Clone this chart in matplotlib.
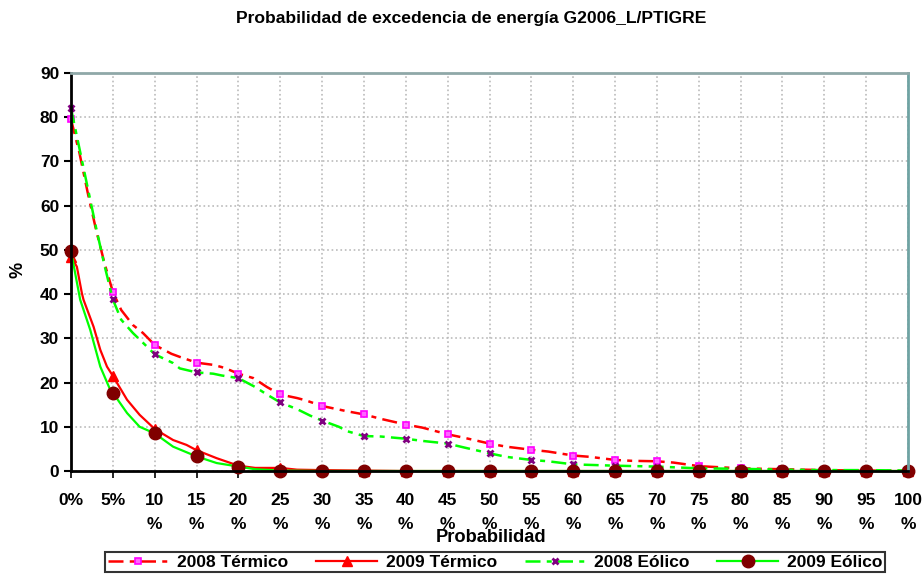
import matplotlib
matplotlib.use('Agg')
import matplotlib.pyplot as plt

# probability (%) positions and exceedance values
x_t08 = [0, 1, 2, 3, 4, 5, 6, 7.4, 8.6, 10, 12, 13, 15, 17, 18, 19, 20, 21.8, 23.4, 25, 27, 28, 30,
         33, 35, 37, 40, 42, 45, 47, 50, 52, 55, 57, 60, 62, 65, 67, 70, 72, 75, 80, 85, 90, 95, 100]
y_t08 = [79.5, 72, 62.9, 54.5, 47, 40.5, 36.4, 33, 31.2, 28.5, 26.5, 25.8, 24.5, 24, 23.5, 22.8, 22, 21, 19, 17.3, 16.5, 16, 14.7,
         13.5, 12.8, 11.8, 10.5, 9.8, 8.3, 7.5, 6.2, 5.5, 4.8, 4.4, 3.5, 3.2, 2.5, 2.3, 2.2, 1.9, 1.1, 0.6, 0.4, 0.2, 0.1, 0]

x_t09 = [0, 0.7, 1.3, 1.5, 2.7, 3.5, 4.3, 5, 6.7, 8.2, 10, 12.2, 13.8, 15, 17.4, 20, 22, 25, 27, 30, 35, 40,
         45, 50, 55, 60, 65, 70, 75, 80, 85, 90, 95, 100]
y_t09 = [48.5, 46.2, 40.2, 38.7, 32.6, 27.4, 23.6, 21.5, 16.1, 12.7, 9.5, 7, 5.9, 4.7, 2.9, 1.2, 0.7, 0.7, 0.3, 0.2, 0.1, 0,
         0, 0, 0, 0, 0, 0, 0, 0, 0, 0, 0, 0]

x_e08 = [0, 1, 2, 3, 4, 5, 6, 7.4, 8.6, 10, 12.2, 13, 15, 17, 18, 20, 22, 23.4, 25, 27, 28.6, 30, 32, 33,
         35, 37, 40, 42, 45, 47, 50, 52, 55, 57, 60, 65, 70, 75, 80, 85, 90, 95, 100]
y_e08 = [82, 73, 64, 55, 46.5, 38.8, 34.2, 31.2, 29, 26.4, 24.4, 23.2, 22.3, 22, 21.6, 21, 19, 17.3, 15.5, 14, 12.5, 11.4, 10, 9,
         7.9, 7.8, 7.3, 6.8, 6.2, 5.3, 4, 3.2, 2.5, 2.2, 1.5, 1.2, 1.0, 0.6, 0.5, 0.3, 0.2, 0.2, 0.1]

x_e09 = [0, 1.1, 2.3, 3.5, 4.7, 5, 6.7, 8.2, 10, 12.2, 15, 17.4, 20, 22, 25, 30, 35, 40,
         45, 50, 55, 60, 65, 70, 75, 80, 85, 90, 95, 100]
y_e09 = [49.7, 38.7, 31.9, 23.6, 18.3, 17.7, 13.1, 10, 8.5, 5.5, 3.3, 1.8, 1.0, 0.4, 0.1, 0, 0, 0,
         0, 0, 0, 0, 0, 0, 0, 0, 0, 0, 0, 0]

ticks = list(range(0, 101, 5))
tick_labels = ['0%', '5%'] + [f'{t}\n%' for t in ticks[2:]]

plt.rcParams['font.family'] = ['Liberation Sans', 'DejaVu Sans']
plt.rcParams['font.weight'] = 'bold'


def on_five(xs):
    return [float(v) % 5 == 0 for v in xs]


fig = plt.figure(figsize=(9.24, 5.74), dpi=100)
ax = fig.add_axes([71 / 924, 1 - 471 / 574, (908 - 71) / 924, (471 - 73) / 574])

dash = (0, (6, 2.5, 2, 2.5))
l1, = ax.plot(x_t08, y_t08, color='#FF0000', lw=1.8, ls=dash, marker='s', ms=5,
              mfc='#FF66FF', mec='#FF00FF', mew=1.2, markevery=on_five(x_t08), label='2008 Térmico')
l2, = ax.plot(x_t09, y_t09, color='#FF0000', lw=1.6, marker='^', ms=7,
              mfc='#FF0000', mec='#FF0000', markevery=on_five(x_t09), label='2009 Térmico')
l3, = ax.plot(x_e08, y_e08, color='#00FF00', lw=1.8, ls=dash, marker='x', ms=5,
              mec='#800080', mew=2, markevery=on_five(x_e08), label='2008 Eólico')
l4, = ax.plot(x_e09, y_e09, color='#00FF00', lw=1.6, marker='o', ms=9,
              mfc='#800000', mec='#800000', markevery=on_five(x_e09), label='2009 Eólico')

ax.set_xlim(0, 100)
ax.set_ylim(0, 90)
ax.set_xticks(ticks)
ax.set_xticklabels(tick_labels, fontsize=12.5, fontweight='bold', linespacing=1.75, va='top')
ax.set_yticks(range(0, 91, 10))
ax.tick_params(axis='y', labelsize=12.5, length=5, width=1.5, direction='out')
ax.tick_params(axis='x', length=5, width=1.2, direction='out', pad=11)
for lab in ax.get_yticklabels():
    lab.set_fontweight('bold')
ax.grid(True, color='#BBBBBB', ls=':', lw=1.2)
ax.set_axisbelow(True)

ax.spines['left'].set_linewidth(2)
ax.spines['bottom'].set_linewidth(2)
ax.spines['right'].set_color('#6FA3A3')
ax.spines['right'].set_linewidth(2)
ax.spines['top'].set_color('#8FA8A8')
ax.spines['top'].set_linewidth(2)
for l in (l1, l2, l3, l4):
    l.set_clip_on(False)

fig.text(471 / 924, 1 - 19 / 574, 'Probabilidad de excedencia de energía G2006_L/PTIGRE',
         ha='center', va='center', fontsize=12.6, fontweight='bold')
fig.text(18 / 924, 1 - 270 / 574, '%', rotation=90, ha='center', va='center',
         fontsize=13, fontweight='bold')
fig.text(491 / 924, 1 - 537 / 574, 'Probabilidad', ha='center', va='center',
         fontsize=13.2, fontweight='bold')

leg = fig.legend(handles=[l1, l2, l3, l4], loc='upper center', ncol=4,
                 bbox_to_anchor=(495 / 924, 1 - 552 / 574), fontsize=12.5,
                 frameon=True, fancybox=False, edgecolor='black', handlelength=3.5,
                 columnspacing=1.6, borderpad=0.15, handletextpad=0.5, borderaxespad=0)
leg.get_frame().set_linewidth(1.5)
for t in leg.get_texts():
    t.set_fontweight('bold')

fig.savefig('out.png', dpi=100)
